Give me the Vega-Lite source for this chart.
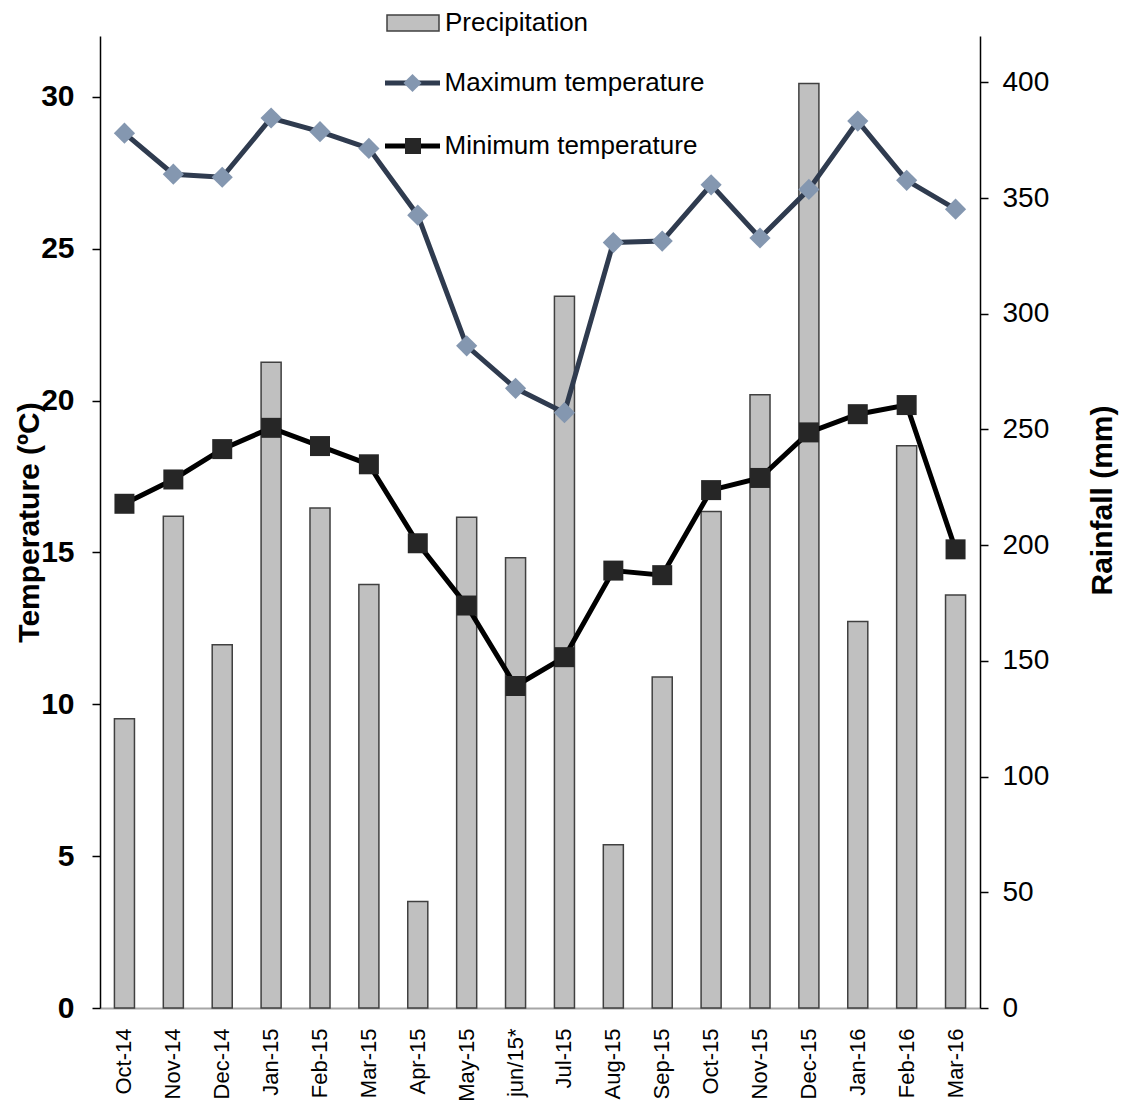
{
  "$schema": "https://vega.github.io/schema/vega-lite/v6.json",
  "width": 880,
  "height": 972,
  "autosize": {"type": "none"},
  "padding": {"left": 100, "top": 36, "right": 146, "bottom": 93},
  "background": "white",
  "config": {
    "view": {"stroke": null},
    "font": "Liberation Sans",
    "legend": {"padding": 0, "labelFont": "Liberation Sans", "labelColor": "#000000", "labelLimit": 0},
    "axis": {"labelFont": "Liberation Sans", "titleFont": "Liberation Sans", "labelColor": "#000000", "titleColor": "#000000", "grid": false}
  },
  "data": {
    "values": [
      {"month": "Oct-14", "precip": 125, "tmax": 28.8, "tmin": 16.6},
      {"month": "Nov-14", "precip": 212.5, "tmax": 27.45, "tmin": 17.4},
      {"month": "Dec-14", "precip": 157, "tmax": 27.35, "tmin": 18.4},
      {"month": "Jan-15", "precip": 279, "tmax": 29.3, "tmin": 19.1},
      {"month": "Feb-15", "precip": 216, "tmax": 28.85, "tmin": 18.5},
      {"month": "Mar-15", "precip": 183, "tmax": 28.3, "tmin": 17.9},
      {"month": "Apr-15", "precip": 46, "tmax": 26.1, "tmin": 15.3},
      {"month": "May-15", "precip": 212, "tmax": 21.8, "tmin": 13.25},
      {"month": "jun/15*", "precip": 194.5, "tmax": 20.4, "tmin": 10.6},
      {"month": "Jul-15", "precip": 307.5, "tmax": 19.6, "tmin": 11.55},
      {"month": "Aug-15", "precip": 70.5, "tmax": 25.2, "tmin": 14.4},
      {"month": "Sep-15", "precip": 143, "tmax": 25.25, "tmin": 14.25},
      {"month": "Oct-15", "precip": 214.5, "tmax": 27.1, "tmin": 17.05},
      {"month": "Nov-15", "precip": 265, "tmax": 25.35, "tmin": 17.45},
      {"month": "Dec-15", "precip": 399.5, "tmax": 26.95, "tmin": 18.95},
      {"month": "Jan-16", "precip": 167, "tmax": 29.2, "tmin": 19.55},
      {"month": "Feb-16", "precip": 243, "tmax": 27.25, "tmin": 19.85},
      {"month": "Mar-16", "precip": 178.5, "tmax": 26.3, "tmin": 15.1}
    ]
  },
  "encoding": {
    "x": {
      "field": "month",
      "type": "nominal",
      "sort": null,
      "scale": {"type": "band", "paddingInner": 0.59, "paddingOuter": 0.295},
      "axis": {
        "title": null,
        "labelAngle": -90,
        "labelFontSize": 22,
        "labelPadding": 20,
        "ticks": false,
        "domainColor": "#A6A6A6",
        "domainWidth": 2
      }
    }
  },
  "layer": [
    {
      "mark": {"type": "bar", "stroke": "#404040", "strokeWidth": 1.5},
      "encoding": {
        "y": {
          "field": "precip",
          "type": "quantitative",
          "scale": {"domain": [0, 420], "nice": false, "zero": true},
          "axis": {
            "orient": "right",
            "values": [0, 50, 100, 150, 200, 250, 300, 350, 400],
            "labelFontSize": 28,
            "labelPadding": 14,
            "tickSize": 8,
            "tickColor": "#000000",
            "tickWidth": 1.5,
            "domainColor": "#000000",
            "domainWidth": 1.5,
            "title": "Rainfall (mm)",
            "titleFontSize": 30,
            "titleFontWeight": "bold",
            "titleAngle": -90,
            "titleBaseline": "alphabetic",
            "titleAlign": "center",
            "titleX": 131,
            "titleY": 464
          }
        },
        "fill": {
          "datum": "Precipitation",
          "type": "nominal",
          "scale": {"range": ["#C0C0C0"]},
          "legend": {
            "orient": "none",
            "legendX": 286,
            "legendY": -28,
            "title": null,
            "symbolType": "M-1,-0.31H1V0.31H-1Z",
            "symbolSize": 2704,
            "symbolStrokeColor": "#404040",
            "symbolStrokeWidth": 1.5,
            "labelFontSize": 26,
            "labelOffset": 5,
            "clipHeight": 30
          }
        }
      }
    },
    {
      "layer": [
        {
          "mark": {"type": "line", "strokeWidth": 5},
          "encoding": {
            "y": {
              "field": "tmax",
              "type": "quantitative",
              "scale": {"domain": [0, 32], "nice": false},
              "axis": {
                "orient": "left",
                "title": "Temperature (ºC)",
                "values": [0, 5, 10, 15, 20, 25, 30],
                "labelFontSize": 30,
                "labelFontWeight": "bold",
                "labelPadding": 18,
                "tickSize": 8,
                "tickColor": "#000000",
                "tickWidth": 1.5,
                "domainColor": "#000000",
                "domainWidth": 1.5,
                "titleFontSize": 30,
                "titleFontWeight": "bold",
                "titleAngle": -90,
                "titleBaseline": "alphabetic",
                "titleAlign": "center",
                "titleX": -62,
                "titleY": 486
              }
            },
            "stroke": {
              "datum": "Maximum temperature",
              "type": "nominal",
              "scale": {"range": ["#2F3B4F"]},
              "legend": {
                "orient": "none",
                "legendX": 282.5,
                "legendY": 32,
                "title": null,
                "symbolType": "stroke",
                "symbolSize": 3025,
                "symbolStrokeWidth": 5,
                "labelFontSize": 26,
                "labelOffset": 2,
                "clipHeight": 30
              }
            }
          }
        },
        {
          "mark": {"type": "point", "shape": "diamond", "filled": true, "size": 450, "fill": "#8497B0", "opacity": 1},
          "encoding": {
            "y": {
              "field": "tmax",
              "type": "quantitative",
              "scale": {"domain": [0, 32], "nice": false},
              "axis": {
                "orient": "left",
                "title": "Temperature (ºC)",
                "values": [0, 5, 10, 15, 20, 25, 30],
                "labelFontSize": 30,
                "labelFontWeight": "bold",
                "labelPadding": 18,
                "tickSize": 8,
                "tickColor": "#000000",
                "tickWidth": 1.5,
                "domainColor": "#000000",
                "domainWidth": 1.5,
                "titleFontSize": 30,
                "titleFontWeight": "bold",
                "titleAngle": -90,
                "titleBaseline": "alphabetic",
                "titleAlign": "center",
                "titleX": -62,
                "titleY": 486
              }
            },
            "shape": {
              "datum": "max_marker",
              "type": "nominal",
              "scale": {"range": ["diamond"]},
              "legend": {
                "orient": "none",
                "legendX": 303,
                "legendY": 32,
                "title": null,
                "symbolSize": 330,
                "symbolFillColor": "#8497B0",
                "symbolStrokeWidth": 0,
                "labelExpr": "''",
                "clipHeight": 30
              }
            }
          }
        },
        {
          "mark": {"type": "line", "strokeWidth": 5},
          "encoding": {
            "y": {
              "field": "tmin",
              "type": "quantitative",
              "scale": {"domain": [0, 32], "nice": false},
              "axis": {
                "orient": "left",
                "title": "Temperature (ºC)",
                "values": [0, 5, 10, 15, 20, 25, 30],
                "labelFontSize": 30,
                "labelFontWeight": "bold",
                "labelPadding": 18,
                "tickSize": 8,
                "tickColor": "#000000",
                "tickWidth": 1.5,
                "domainColor": "#000000",
                "domainWidth": 1.5,
                "titleFontSize": 30,
                "titleFontWeight": "bold",
                "titleAngle": -90,
                "titleBaseline": "alphabetic",
                "titleAlign": "center",
                "titleX": -62,
                "titleY": 486
              }
            },
            "color": {
              "datum": "Minimum temperature",
              "type": "nominal",
              "scale": {"range": ["#000000"]},
              "legend": {
                "orient": "none",
                "legendX": 282.5,
                "legendY": 95,
                "title": null,
                "symbolType": "stroke",
                "symbolSize": 3025,
                "symbolStrokeWidth": 5,
                "labelFontSize": 26,
                "labelOffset": 2,
                "clipHeight": 30
              }
            }
          }
        },
        {
          "mark": {"type": "point", "shape": "square", "filled": true, "size": 400, "fill": "#262626"},
          "encoding": {
            "y": {
              "field": "tmin",
              "type": "quantitative",
              "scale": {"domain": [0, 32], "nice": false},
              "axis": {
                "orient": "left",
                "title": "Temperature (ºC)",
                "values": [0, 5, 10, 15, 20, 25, 30],
                "labelFontSize": 30,
                "labelFontWeight": "bold",
                "labelPadding": 18,
                "tickSize": 8,
                "tickColor": "#000000",
                "tickWidth": 1.5,
                "domainColor": "#000000",
                "domainWidth": 1.5,
                "titleFontSize": 30,
                "titleFontWeight": "bold",
                "titleAngle": -90,
                "titleBaseline": "alphabetic",
                "titleAlign": "center",
                "titleX": -62,
                "titleY": 486
              }
            },
            "opacity": {
              "datum": "min_marker",
              "type": "ordinal",
              "scale": {"range": [1]},
              "legend": {
                "orient": "none",
                "legendX": 305,
                "legendY": 95,
                "title": null,
                "symbolType": "square",
                "symbolSize": 256,
                "symbolFillColor": "#262626",
                "symbolStrokeWidth": 0,
                "labelExpr": "''",
                "clipHeight": 30
              }
            }
          }
        }
      ]
    }
  ],
  "resolve": {"scale": {"y": "independent"}}
}
